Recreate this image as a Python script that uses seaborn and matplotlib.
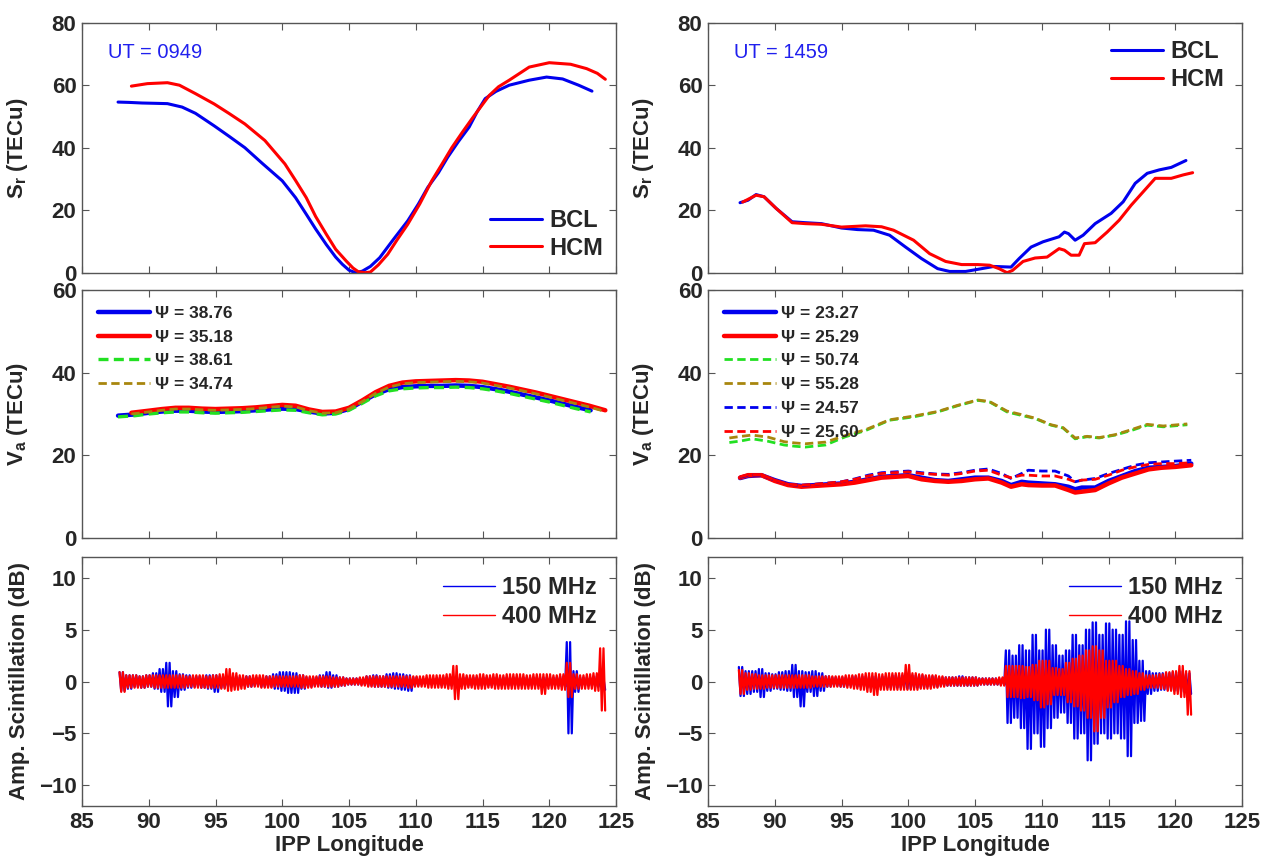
import numpy as np
import matplotlib
matplotlib.use("Agg")
import matplotlib.pyplot as plt
import seaborn as sns

# ---------------- data ----------------
# top row: slant TEC S_r
bcl_l_x = [87.7, 88.5, 89.5, 90.5, 91.4, 92.5, 93.5, 94.9, 96, 97.2, 98.5, 100, 101, 101.8, 102.5, 103.3,
           104, 104.5, 105, 105.5, 106, 106.6, 107.3, 108.3, 109.4, 110.2, 110.9, 111.7, 112.4, 113.2, 114,
           114.6, 115.2, 116, 117, 118.5, 119.8, 121, 122.2, 123.2]
bcl_l_y = [54.6, 54.5, 54.3, 54.2, 54.1, 53, 51, 47, 43.7, 40, 35, 29.4, 24, 18.7, 14, 9,
           5, 2.7, 0.8, 0, 0.5, 2, 4.8, 10.5, 16.6, 22, 27.3, 32, 37, 42, 46.6,
           51.5, 55.7, 58, 60, 61.6, 62.6, 62, 60, 58.1]
hcm_l_x = [88.7, 89.9, 91.4, 92.3, 93.5, 94.9, 96, 97.2, 98.7, 100.2, 101, 101.8, 102.5, 103.3, 104, 104.8,
           105.3, 105.7, 106.2, 106.6, 107.2, 107.9, 108.6, 109.4, 110.3, 111.2, 112, 112.7, 113.5, 114.3,
           115.5, 116.2, 117, 118.5, 120, 121.6, 122.8, 123.6, 124.2]
hcm_l_y = [59.7, 60.5, 60.8, 60, 57.3, 54, 51, 47.6, 42.3, 34.8, 29.5, 24, 18, 12.3, 7.5, 3.7,
           1.5, 0.3, 0, 0.2, 2.5, 5.9, 10.5, 15.5, 22, 29.4, 35, 40, 45, 49.8,
           56.7, 59.5, 61.6, 65.8, 67.2, 66.7, 65.3, 63.8, 61.9]

bcl_r_x = [87.4, 88, 88.6, 89.2, 90.1, 91.3, 92.3, 93.5, 95, 96.2, 97.4, 98.6, 99.8, 101, 102.2, 103.1,
           104.3, 105.5, 106.4, 107.7, 108.3, 109.2, 110.1, 111.3, 111.7, 112, 112.5, 113.1, 114, 115.2,
           116.1, 117, 117.9, 118.8, 119.7, 120.8]
bcl_r_y = [22.4, 23.2, 25, 24.3, 20.6, 16.3, 16, 15.7, 14.3, 13.8, 13.6, 12, 8.2, 4.5, 1.3, 0.4,
           0.4, 1.3, 2, 1.8, 4.5, 8.2, 9.9, 11.5, 13, 12.5, 10.4, 12, 15.7, 19,
           22.7, 28.6, 31.8, 32.9, 33.7, 35.9]
hcm_r_x = [87.6, 88.6, 89.2, 90.1, 91.3, 92.3, 93.5, 95, 96.8, 98, 98.9, 100.4, 101.6, 102.8, 104, 105.2,
           106.1, 106.8, 107.4, 107.8, 108.6, 109.5, 110.4, 111.3, 111.7, 112.2, 112.8, 113.2, 114, 114.9,
           115.8, 116.7, 117.6, 118.5, 119.7, 120.6, 121.3]
hcm_r_y = [22.6, 24.8, 24.3, 20.6, 16, 15.7, 15.5, 14.6, 15, 14.7, 13.6, 10.4, 6.1, 3.6, 2.6, 2.6,
           2.4, 1.3, 0, 0.7, 3.6, 4.7, 5, 7.7, 7.2, 5.6, 5.6, 9.3, 9.6, 13,
           16.8, 21.6, 25.9, 30.2, 30.2, 31.3, 32]

# middle row: vertical TEC V_a
va_l_bcl_x = [87.7, 89, 90, 91, 92, 93, 94, 95, 96, 97, 98, 99, 100, 101, 102, 103, 104, 105, 106, 107,
              108, 109, 110, 111, 112, 113, 114, 115, 116, 117, 118, 119, 120, 121, 122, 123.1]
va_l_blue = [29.6, 29.9, 30.3, 30.6, 30.8, 30.8, 30.6, 30.5, 30.6, 30.7, 30.9, 31.1, 31.3, 31.2, 30.6, 30.1,
             30.3, 31.2, 33.0, 34.8, 36.0, 36.5, 36.7, 36.8, 36.8, 36.9, 36.8, 36.5, 36.0, 35.4, 34.7, 34.0,
             33.3, 32.5, 31.7, 30.9]
va_l_green = [29.3, 29.6, 30.0, 30.3, 30.5, 30.5, 30.3, 30.2, 30.3, 30.4, 30.6, 30.8, 31.0, 30.9, 30.3, 29.8,
              30.0, 30.9, 32.6, 34.4, 35.6, 36.1, 36.3, 36.4, 36.4, 36.5, 36.4, 36.1, 35.6, 35.0, 34.3, 33.6,
              32.9, 32.1, 31.3, 30.5]
va_l_hcm_x = [88.7, 90, 91, 92, 93, 94, 95, 96, 97, 98, 99, 100, 101, 102, 103, 104, 105, 106, 107, 108,
              109, 110, 111, 112, 113, 114, 115, 116, 117, 118, 119, 120, 121, 122, 123, 124.2]
va_l_red = [30.3, 30.8, 31.2, 31.5, 31.5, 31.3, 31.2, 31.3, 31.4, 31.6, 31.9, 32.2, 32.0, 31.1, 30.5, 30.6,
            31.5, 33.3, 35.3, 36.8, 37.6, 37.9, 38.0, 38.1, 38.2, 38.1, 37.8, 37.2, 36.6, 35.9, 35.2, 34.4,
            33.6, 32.8, 32.0, 30.9]
va_l_olive = [30.0, 30.5, 30.9, 31.2, 31.2, 31.0, 30.9, 31.0, 31.1, 31.3, 31.6, 31.9, 31.7, 30.8, 30.2, 30.3,
              31.2, 33.0, 35.0, 36.5, 37.3, 37.6, 37.7, 37.8, 37.9, 37.8, 37.5, 36.9, 36.3, 35.6, 34.9, 34.1,
              33.3, 32.5, 31.7, 30.6]
psi_left = ["38.76", "35.18", "38.61", "34.74"]

va_r_x = [87.4, 88, 89, 90, 91, 92, 93, 94, 95, 96, 97, 98, 99, 100, 101, 102, 103, 104, 105, 106, 107,
          107.7, 108.5, 109, 110, 111, 112, 112.5, 113, 114, 115, 116, 117, 118, 119, 120, 121.2]
va_r_blue = [14.5, 15.0, 15.2, 14.0, 13.0, 12.6, 12.8, 13.0, 13.2, 13.6, 14.2, 14.8, 15.0, 15.2, 14.6, 14.0,
             13.8, 14.2, 14.6, 14.6, 13.8, 12.8, 13.6, 13.4, 13.2, 13.0, 12.4, 11.8, 12.2, 12.2, 13.8, 15.0,
             16.2, 17.0, 17.2, 17.4, 18.0]
va_r_red = [14.6, 15.2, 15.2, 13.8, 12.8, 12.4, 12.6, 12.8, 13.0, 13.4, 14.0, 14.6, 14.8, 15.0, 14.2, 13.8,
            13.6, 13.8, 14.2, 14.4, 13.4, 12.4, 13.0, 12.8, 12.7, 12.7, 11.6, 11.0, 11.2, 11.6, 13.2, 14.6,
            15.6, 16.6, 17.0, 17.2, 17.6]
va_r_blue_d = [14.7, 15.2, 15.2, 14.0, 13.0, 12.7, 13.0, 13.3, 13.6, 14.3, 15.2, 15.8, 16.0, 16.2, 15.8, 15.5,
               15.4, 15.8, 16.4, 16.7, 15.6, 14.4, 15.6, 16.4, 16.2, 16.2, 15.0, 13.6, 14.0, 14.4, 15.6, 16.6,
               17.6, 18.2, 18.4, 18.6, 18.8]
va_r_red_d = [14.8, 15.3, 15.3, 14.0, 13.0, 12.8, 13.0, 13.3, 13.6, 14.2, 15.0, 15.6, 15.8, 16.0, 15.6, 15.4,
              15.2, 15.6, 16.2, 16.4, 15.2, 14.6, 15.2, 15.2, 15.0, 15.0, 14.2, 13.6, 14.0, 14.2, 15.2, 16.4,
              17.2, 17.8, 18.0, 18.0, 18.2]
va_r_hi_x = [86.6, 87.5, 88.3, 89.5, 90.7, 91.5, 92.3, 93.8, 95.3, 96.8, 98.6, 100.4, 102.2, 103.7, 105.2,
             106.1, 107.4, 108.3, 109.5, 110.7, 111.6, 112.5, 113.4, 114.3, 115.5, 116.7, 117.9, 119.1, 120.9]
va_r_green = [23.1, 23.5, 24.0, 23.4, 22.5, 22.2, 22.0, 22.5, 24.5, 26.0, 28.5, 29.3, 30.5, 32.0, 33.3,
              32.9, 30.5, 29.8, 28.9, 27.3, 26.6, 24.0, 24.5, 24.2, 24.9, 26.0, 27.3, 26.9, 27.4]
va_r_olive = [24.2, 24.6, 24.9, 24.4, 23.3, 23.0, 22.8, 23.2, 24.8, 26.2, 28.6, 29.5, 30.6, 32.1, 33.4,
              33.0, 30.7, 30.0, 29.0, 27.4, 26.7, 24.2, 24.6, 24.3, 25.0, 26.2, 27.5, 27.1, 27.6]
psi_right = ["23.27", "25.29", "50.74", "55.28", "24.57", "25.60"]

# bottom row: scintillation envelope (peak up / peak down) per 0.5 deg bin
sc_l_lon = [88.0, 88.5, 89.0, 89.5, 90.0, 90.5, 91.0, 91.5, 92.0, 92.5, 93.0, 93.5, 94.0, 94.5, 95.0, 95.5,
            96.0, 96.5, 97.0, 97.5, 98.0, 98.5, 99.0, 99.5, 100.0, 100.5, 101.0, 101.5, 102.0, 102.5, 103.0,
            103.5, 104.0, 104.5, 105.0, 105.5, 106.0, 106.5, 107.0, 107.5, 108.0, 108.5, 109.0, 109.5, 110.0,
            110.5, 111.0, 111.5, 112.0, 112.5, 113.0, 113.5, 114.0, 114.5, 115.0, 115.5, 116.0, 116.5, 117.0,
            117.5, 118.0, 118.5, 119.0, 119.5, 120.0, 120.5, 121.0, 121.5, 122.0, 122.5, 123.0, 123.5, 124.0]
sc_l_150_up = [0.9, 0.6, 0.6, 0.5, 0.6, 0.8, 1.2, 1.8, 1.0, 0.7, 0.6, 0.5, 0.5, 0.6, 0.6, 0.5,
               0.4, 0.5, 0.4, 0.5, 0.4, 0.4, 0.5, 0.7, 0.9, 0.9, 0.8, 0.6, 0.4, 0.4, 0.6,
               0.9, 0.6, 0.4, 0.3, 0.3, 0.3, 0.5, 0.6, 0.5, 0.7, 0.8, 0.7, 0.6, 0.4,
               0.3, 0.3, 0.3, 0.4, 0.4, 0.4, 0.4, 0.4, 0.4, 0.4, 0.4, 0.4, 0.4, 0.4,
               0.4, 0.4, 0.4, 0.4, 0.4, 0.4, 0.4, 0.5, 3.8, 1.0, 0.4, 0.4, 0.5, 0.3]
sc_l_150_dn = [-0.9, -0.7, -0.5, -0.6, -0.5, -0.7, -1.0, -2.4, -1.5, -0.8, -0.6, -0.5, -0.6, -0.7, -1.0, -0.6,
               -0.5, -0.5, -0.4, -0.5, -0.4, -0.5, -0.5, -0.7, -0.9, -1.1, -1.1, -0.7, -0.5, -0.4, -0.5,
               -0.6, -0.5, -0.4, -0.3, -0.3, -0.3, -0.4, -0.5, -0.5, -0.6, -0.7, -0.8, -0.9, -0.4,
               -0.3, -0.3, -0.3, -0.4, -0.4, -0.4, -0.4, -0.4, -0.4, -0.4, -0.4, -0.4, -0.4, -0.4,
               -0.4, -0.4, -0.4, -0.4, -0.4, -0.4, -0.4, -0.5, -5.0, -1.0, -0.4, -0.4, -0.5, -0.8]
sc_l_400_up = [0.9, 0.6, 0.6, 0.5, 0.6, 0.6, 0.6, 0.6, 0.6, 0.6, 0.5, 0.6, 0.6, 0.5, 0.6, 0.7,
               1.2, 0.8, 0.6, 0.5, 0.6, 0.6, 0.5, 0.5, 0.5, 0.5, 0.5, 0.6, 0.5, 0.5, 0.5,
               0.5, 0.4, 0.4, 0.3, 0.3, 0.4, 0.5, 0.5, 0.5, 0.5, 0.5, 0.5, 0.5, 0.5,
               0.5, 0.6, 0.6, 0.6, 0.7, 1.5, 0.7, 0.6, 0.6, 0.7, 0.6, 0.7, 0.6, 0.7,
               0.7, 0.7, 0.6, 0.7, 0.7, 0.7, 0.6, 0.7, 1.8, 0.7, 0.6, 0.7, 0.8, 3.2]
sc_l_400_dn = [-1.0, -0.6, -0.6, -0.6, -0.5, -0.6, -0.6, -0.6, -0.6, -0.6, -0.5, -0.6, -0.6, -0.6, -0.6, -0.7,
               -0.9, -0.8, -0.7, -0.5, -0.5, -0.6, -0.6, -0.5, -0.5, -0.5, -0.5, -0.6, -0.6, -0.5, -0.5,
               -0.5, -0.5, -0.4, -0.3, -0.3, -0.4, -0.5, -0.5, -0.5, -0.5, -0.5, -0.5, -0.6, -0.5,
               -0.5, -0.6, -0.6, -0.6, -0.7, -1.7, -0.7, -0.6, -0.7, -0.7, -0.6, -0.7, -0.7, -0.7,
               -0.7, -0.7, -0.7, -0.7, -1.2, -0.7, -0.7, -0.8, -1.5, -0.7, -0.7, -0.7, -0.9, -2.8]

sc_r_lon = [87.5, 88.0, 88.5, 89.0, 89.5, 90.0, 90.5, 91.0, 91.5, 92.0, 92.5, 93.0, 93.5, 94.0, 94.5, 95.0,
            95.5, 96.0, 96.5, 97.0, 97.5, 98.0, 98.5, 99.0, 99.5, 100.0, 100.5, 101.0, 101.5, 102.0, 102.5,
            103.0, 103.5, 104.0, 104.5, 105.0, 105.5, 106.0, 106.5, 107.0, 107.5, 108.0, 108.5, 109.0, 109.5,
            110.0, 110.5, 111.0, 111.5, 112.0, 112.5, 113.0, 113.5, 114.0, 114.5, 115.0, 115.5, 116.0, 116.5,
            117.0, 117.5, 118.0, 118.5, 119.0, 119.5, 120.0, 120.5, 121.0]
sc_r_150_up = [1.4, 1.0, 1.0, 1.2, 0.8, 0.7, 0.9, 1.0, 1.6, 1.0, 0.9, 1.0, 0.8, 0.5, 0.4, 0.4,
               0.4, 0.5, 0.5, 0.5, 0.5, 0.5, 0.5, 0.6, 0.6, 0.8, 0.6, 0.6, 0.5, 0.5, 0.4,
               0.4, 0.4, 0.5, 0.4, 0.4, 0.3, 0.3, 0.3, 0.3, 3.0, 2.5, 3.5, 3.0, 4.5,
               3.0, 5.0, 3.5, 2.5, 3.0, 4.5, 3.5, 5.0, 5.7, 4.5, 5.6, 5.0, 4.5, 5.8,
               4.0, 2.0, 1.0, 0.8, 0.8, 0.8, 0.9, 1.0, 0.8]
sc_r_150_dn = [-1.4, -1.2, -1.0, -1.5, -0.9, -0.7, -0.8, -0.9, -1.5, -2.4, -1.0, -1.4, -0.9, -0.5, -0.4, -0.5,
               -0.4, -0.5, -0.5, -0.6, -0.7, -0.5, -0.6, -0.6, -0.6, -0.7, -0.6, -0.6, -0.5, -0.5, -0.4,
               -0.4, -0.4, -0.4, -0.4, -0.4, -0.3, -0.3, -0.3, -0.3, -4.0, -3.5, -4.5, -6.5, -5.0,
               -6.3, -4.5, -3.5, -3.0, -4.0, -5.5, -5.0, -7.6, -6.0, -5.0, -5.5, -5.0, -5.5, -7.2,
               -4.0, -3.8, -1.2, -0.9, -0.8, -0.8, -0.9, -1.0, -1.2]
sc_r_400_up = [1.1, 0.8, 0.7, 0.6, 0.6, 0.6, 0.6, 0.6, 0.6, 0.6, 0.6, 0.5, 0.5, 0.5, 0.5, 0.5,
               0.6, 0.6, 0.7, 0.8, 0.8, 0.7, 0.8, 0.8, 0.8, 1.6, 0.8, 0.7, 0.6, 0.6, 0.5,
               0.4, 0.4, 0.4, 0.4, 0.4, 0.3, 0.3, 0.3, 0.4, 1.5, 1.5, 1.5, 1.4, 1.6,
               2.0, 2.0, 1.3, 1.2, 1.8, 2.2, 2.5, 3.0, 3.4, 3.0, 2.0, 2.0, 1.5, 1.2,
               1.0, 0.8, 0.6, 0.6, 0.7, 0.9, 1.0, 1.5, 1.0]
sc_r_400_dn = [-1.2, -0.8, -0.7, -0.7, -0.6, -0.6, -0.6, -0.6, -0.6, -0.6, -0.6, -0.5, -0.5, -0.5, -0.5, -0.5,
               -0.6, -0.7, -0.8, -1.0, -1.3, -0.8, -0.8, -0.8, -0.8, -0.8, -0.8, -0.7, -0.7, -0.6, -0.5,
               -0.4, -0.4, -0.4, -0.4, -0.4, -0.3, -0.3, -0.3, -0.4, -1.5, -1.5, -1.6, -1.5, -1.8,
               -2.5, -2.2, -1.3, -1.3, -2.0, -2.4, -2.8, -3.5, -4.8, -3.5, -2.5, -2.0, -1.5, -1.3,
               -1.2, -0.8, -0.6, -0.6, -0.7, -0.9, -1.2, -1.5, -3.2]

# ---------------- style ----------------
sns.set_style("ticks")
plt.rcParams["font.family"] = ["Liberation Sans", "DejaVu Sans"]
plt.rcParams["font.weight"] = "bold"
plt.rcParams["mathtext.fontset"] = "custom"
plt.rcParams["mathtext.bf"] = "Liberation Sans:bold"
plt.rcParams["mathtext.rm"] = "Liberation Sans:bold"

BLUE = "#0000ee"
RED = "#ff0000"
GREEN = "#22e022"
OLIVE = "#a8860e"
TICK_FS = 16

fig = plt.figure(figsize=(12.63, 8.61), dpi=100)
W, H = 1263, 861


def add_ax(left_px, top_px, right_px, bottom_px):
    return fig.add_axes([left_px / W, 1 - bottom_px / H, (right_px - left_px) / W, (bottom_px - top_px) / H])


def style(ax, ylim, yticks, xlabels):
    ax.set_xlim(85, 125)
    ax.set_ylim(*ylim)
    ax.set_xticks(range(85, 126, 5))
    ax.set_yticks(yticks)
    ax.tick_params(direction="in", length=5, width=0.8, top=True, right=True,
                   labelsize=TICK_FS, color="#555555", pad=4)
    for s in ax.spines.values():
        s.set_color("#555555")
        s.set_linewidth(1.0)
        s.set_visible(True)
    if not xlabels:
        ax.set_xticklabels([])
    for lab in ax.get_xticklabels() + ax.get_yticklabels():
        lab.set_fontweight("bold")
    ax.yaxis.set_label_coords(-0.098, 0.5)


def zigzag(ax, lon, up, dn, color, label):
    # each 0.5 deg bin drawn as a fast oscillation between its read peak values
    xs, ys = [], []
    for c, u, d in zip(lon, up, dn):
        xs += [c - 0.1875, c - 0.0625, c + 0.0625, c + 0.1875]
        ys += [u, d, u, d]
    ax.plot(xs, ys, color=color, lw=1.6, label=label)


cols = [(82, 616), (708, 1242)]
rows = [(22.7, 272.7), (290, 538), (557, 806)]

# ---------------- top row ----------------
for ci, (bx, by, hx, hy, ut, loc, pad) in enumerate([
        (bcl_l_x, bcl_l_y, hcm_l_x, hcm_l_y, "UT = 0949", "lower right", 0.15),
        (bcl_r_x, bcl_r_y, hcm_r_x, hcm_r_y, "UT = 1459", "upper right", 0.35)]):
    ax = add_ax(cols[ci][0], rows[0][0], cols[ci][1], rows[0][1])
    sns.lineplot(x=bx, y=by, ax=ax, color=BLUE, lw=2.2, label="BCL", sort=False, estimator=None)
    sns.lineplot(x=hx, y=hy, ax=ax, color=RED, lw=2.2, label="HCM", sort=False, estimator=None)
    style(ax, (0, 80), [0, 20, 40, 60, 80], False)
    ax.set_ylabel(r"$\mathbf{S_r}$ (TECu)", fontsize=16, fontweight="bold")
    ax.text(0.048, 0.88, ut, transform=ax.transAxes, color="#2020ee", fontsize=14.5,
            fontweight="normal", va="center")
    ax.legend(loc=loc, frameon=False, fontsize=17, handlelength=2.2, handletextpad=0.3,
              labelspacing=0.2, borderaxespad=pad)

# ---------------- middle row ----------------
ax = add_ax(cols[0][0], rows[1][0], cols[0][1], rows[1][1])
sns.lineplot(x=va_l_bcl_x, y=va_l_blue, ax=ax, color=BLUE, lw=3.2, label="\u03a8 = " + psi_left[0], sort=False, estimator=None)
sns.lineplot(x=va_l_hcm_x, y=va_l_red, ax=ax, color=RED, lw=3.2, label="\u03a8 = " + psi_left[1], sort=False, estimator=None)
ax.plot(va_l_bcl_x, va_l_green, color=GREEN, lw=2.4, ls=(0, (3, 1.6)), label="\u03a8 = " + psi_left[2])
ax.plot(va_l_hcm_x, va_l_olive, color=OLIVE, lw=2.0, ls=(0, (3, 1.6)), label="\u03a8 = " + psi_left[3])
style(ax, (0, 60), [0, 20, 40, 60], False)
ax.set_ylabel(r"$\mathbf{V_a}$ (TECu)", fontsize=16, fontweight="bold")
ax.legend(loc="upper left", frameon=False, fontsize=12.5, handlelength=3.0, handletextpad=0.3,
          labelspacing=0.5, borderaxespad=0.5)

ax = add_ax(cols[1][0], rows[1][0], cols[1][1], rows[1][1])
sns.lineplot(x=va_r_x, y=va_r_blue, ax=ax, color=BLUE, lw=3.2, label="\u03a8 = " + psi_right[0], sort=False, estimator=None)
sns.lineplot(x=va_r_x, y=va_r_red, ax=ax, color=RED, lw=3.2, label="\u03a8 = " + psi_right[1], sort=False, estimator=None)
ax.plot(va_r_hi_x, va_r_green, color=GREEN, lw=2.0, ls=(0, (3, 1.6)), label="\u03a8 = " + psi_right[2])
ax.plot(va_r_hi_x, va_r_olive, color=OLIVE, lw=2.0, ls=(0, (3, 1.6)), label="\u03a8 = " + psi_right[3])
ax.plot(va_r_x, va_r_blue_d, color=BLUE, lw=2.0, ls=(0, (3, 1.6)), label="\u03a8 = " + psi_right[4])
ax.plot(va_r_x, va_r_red_d, color=RED, lw=2.0, ls=(0, (3, 1.6)), label="\u03a8 = " + psi_right[5])
style(ax, (0, 60), [0, 20, 40, 60], False)
ax.set_ylabel(r"$\mathbf{V_a}$ (TECu)", fontsize=16, fontweight="bold")
ax.legend(loc="upper left", frameon=False, fontsize=12.5, handlelength=3.0, handletextpad=0.3,
          labelspacing=0.5, borderaxespad=0.5)

# ---------------- bottom row ----------------
for ci, (lon, b_up, b_dn, r_up, r_dn) in enumerate([
        (sc_l_lon, sc_l_150_up, sc_l_150_dn, sc_l_400_up, sc_l_400_dn),
        (sc_r_lon, sc_r_150_up, sc_r_150_dn, sc_r_400_up, sc_r_400_dn)]):
    ax = add_ax(cols[ci][0], rows[2][0], cols[ci][1], rows[2][1])
    zigzag(ax, lon, b_up, b_dn, BLUE, "150 MHz")
    zigzag(ax, lon, r_up, r_dn, RED, "400 MHz")
    style(ax, (-12, 12), [-10, -5, 0, 5, 10], True)
    ax.set_ylabel("Amp. Scintillation (dB)", fontsize=16, fontweight="bold")
    ax.set_xlabel("IPP Longitude", fontsize=16, fontweight="bold", labelpad=2)
    leg = ax.legend(loc="upper right", frameon=False, fontsize=17, handlelength=2.2, handletextpad=0.3,
                    labelspacing=0.25, borderaxespad=0.4)
    for h in leg.get_lines():
        h.set_linewidth(1.0)

fig.savefig("out.png", dpi=100)
